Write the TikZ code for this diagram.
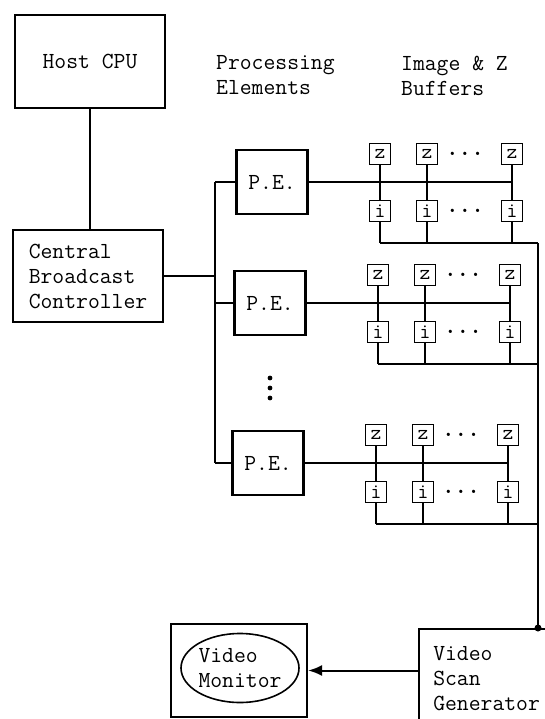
\documentclass[tikz,border=0pt]{standalone}
\usetikzlibrary{calc,arrows.meta,shapes.geometric}

\begin{document}
\begin{tikzpicture}[
    x=1pt, y=-1pt,
    >={Latex[length=14pt,width=11pt]},
    wire/.style={line width=2pt},
    unit/.style={draw, line width=2.2pt, align=left, inner sep=0pt,
      font=\ttfamily\fontsize{23}{25}\selectfont},
    pe box/.style={unit, minimum width=71pt, minimum height=64pt},
    buf/.style={draw, line width=1.9pt, inner sep=0pt,
      minimum width=21pt, minimum height=21pt,
      font=\ttfamily\fontsize{21}{21}\selectfont},
    head/.style={align=left, anchor=west, inner sep=0pt,
      font=\ttfamily\fontsize{23}{25}\selectfont},
    dots/.style={inner sep=0pt, font=\ttfamily\bfseries\fontsize{24}{24}\selectfont}
  ]

  \useasboundingbox (0,0) rectangle (545,719);
  \clip (0,0) rectangle (545,719);

  \coordinate (west bus) at (215,0);
  \coordinate (east bus) at (538,0);

  % host and controller
  \node[unit, minimum width=150pt, minimum height=93pt] (host) at (90,61.5) {Host CPU};
  \node[unit, minimum width=150pt, minimum height=92pt] (cbc) at (88,276)
  {Central\\Broadcast\\Controller};
  \draw[wire] (host.south) -- (host.south |- cbc.north);

  \node[head] (pe head) at (216,75) {Processing\\Elements};
  \node[head] (buf head) at (401,76) {Image \& Z\\Buffers};

  % one row per processing element
  \foreach \row/\zy/\dx in {1/154/2, 2/275/0, 3/435/-2} {
    \node[pe box] (pe-\row) at (270+\dx,\zy+28) {P.E.};

    \node[buf] (z-\row-a) at (378+\dx,\zy) {z};
    \node[buf] (z-\row-b) at (425+\dx,\zy) {z};
    \node[buf] (z-\row-c) at (510+\dx,\zy) {z};
    \node[buf] (i-\row-a) at (378+\dx,\zy+57) {i};
    \node[buf] (i-\row-b) at (425+\dx,\zy+57) {i};
    \node[buf] (i-\row-c) at (510+\dx,\zy+57) {i};
    \node[dots] (zd-\row) at (463+\dx,\zy) {...};
    \node[dots] (id-\row) at (463+\dx,\zy+57) {...};

    \coordinate (bus-\row) at (378+\dx,\zy+89);

    \draw[wire] (west bus |- pe-\row.west) -- (pe-\row.west);
    \draw[wire] (pe-\row.east) -- (pe-\row.east -| z-\row-c.south);
    \foreach \c in {a,b,c} {
      \draw[wire] (z-\row-\c) -- (i-\row-\c);
      \draw[wire] (i-\row-\c) -- (i-\row-\c |- bus-\row);
    }
    \draw[wire] (bus-\row) -- (east bus |- bus-\row);
  }

  \draw[wire] (west bus |- pe-1.west) -- (west bus |- pe-3.west);
  \draw[wire] (cbc.east) -- (cbc.east -| west bus);

  \foreach \y in {378,388,398}
  \fill (270,\y) circle (2.4pt);

  % video output
  \node[unit, anchor=north west, minimum width=135pt, minimum height=100pt] (vsg)
  at (418,628) {Video\\Scan\\Generator};
  \draw[wire] (east bus |- bus-1) -- (east bus |- vsg.north);
  \fill (east bus |- vsg.north) circle (3.5pt);

  \node[unit, minimum width=136pt, minimum height=93pt] (monbox) at (239,670.5) {};
  \node[unit, ellipse, line width=1.6pt, minimum width=118pt, minimum height=69pt,
  inner xsep=0pt, inner ysep=-4pt] (mon) at (240,668) {Video\\Monitor};
  \draw[wire, ->] (vsg.west |- monbox.east) -- (monbox.east);
\end{tikzpicture}
\end{document}
